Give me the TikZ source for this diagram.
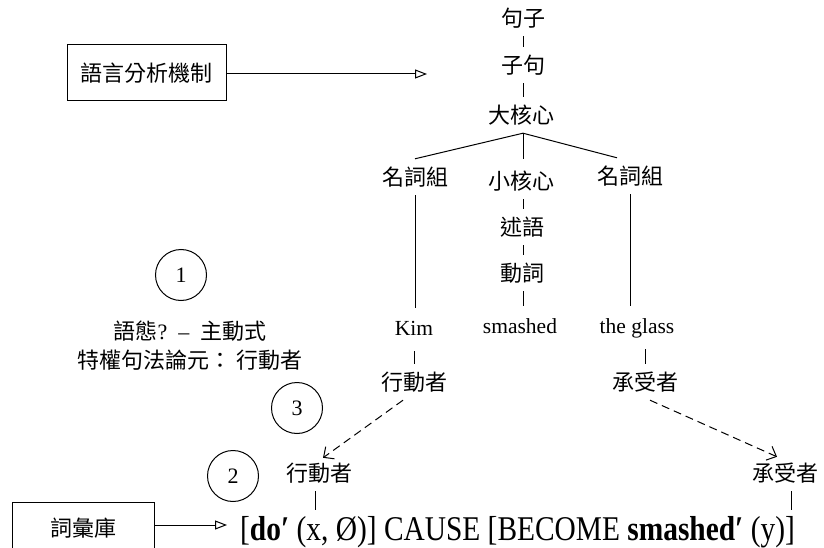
\documentclass[tikz,border=0pt]{standalone}
\usepackage{fontspec}
\setmainfont{Liberation Serif}
\newfontfamily\cjk{Noto Sans CJK TC}
\usetikzlibrary{arrows.meta}
\begin{document}
\begin{tikzpicture}[x=1pt,y=-1pt,
  cj/.style={font=\cjk\fontsize{22}{26}\selectfont, inner xsep=0pt, inner ysep=7pt, text height=19.4pt, text depth=2.6pt},
  lt/.style={font=\fontsize{21.5}{25}\selectfont, inner xsep=0pt, inner ysep=11pt, text height=15.75pt, text depth=5.25pt, anchor=base},
  tline/.style={line width=1pt},
  boxnode/.style={draw, line width=1pt, inner sep=0pt, font=\cjk\fontsize{22}{26}\selectfont},
  num/.style={draw, circle, minimum size=51pt, inner sep=0pt, line width=1pt, font=\fontsize{22}{26}\selectfont},
  openarrow/.style={line width=1pt, -{Triangle[open,length=12pt,width=9pt]}},
  dasharrow/.style={line width=1pt, dash pattern=on 8pt off 5pt, -{Straight Barb[length=8pt,width=15pt]}}
]
\useasboundingbox (0,0) rectangle (824,548);
\clip (0,0) rectangle (824,548);

% boxes and their arrows
\node[boxnode, minimum width=159pt, minimum height=56pt] (box1) at (146.5,73) {語言分析機制};
\coordinate (tip1) at (427,74);
\draw[openarrow] (box1.east |- tip1) -- (tip1);

\node[boxnode, minimum width=142pt, minimum height=52pt] (box2) at (83,528) {詞彙庫};
\coordinate (tip2) at (227,525);
\draw[openarrow] (box2.east |- tip2) -- (tip2);

% tree
\node[cj] (s1) at (523,18) {句子};
\node[cj] (s2) at (523,65) {子句};
\node[cj] (s3) at (521,115) {大核心};
\node[cj] (np1) at (415,177) {名詞組};
\node[cj] (nuc) at (521,181) {小核心};
\node[cj] (np2) at (630,176) {名詞組};
\node[cj] (pred) at (522,227) {述語};
\node[cj] (verb) at (522,273) {動詞};
\node[lt] (kim) at (414,335) {Kim};
\node[lt] (sm) at (520,333) {smashed};
\node[lt] (gl) at (637,333) {the glass};
\node[cj] (act1) at (414,382) {行動者};
\node[cj] (und1) at (645,382) {承受者};

\draw[tline] (s1.south -| 523,0) -- (s2.north -| 523,0);
\draw[tline] (s2.south -| 523,0) -- (s3.north -| 523,0);
\coordinate (root) at (s3.south -| 523,0);
\draw[tline] (root) -- (np1.north);
\draw[tline] (root) -- (root |- np1.north);
\draw[tline] (root) -- ([xshift=-13pt]np2.north);
\draw[tline] (nuc.south -| 523,0) -- (pred.north -| 523,0);
\draw[tline] (pred.south -| 523,0) -- (verb.north -| 523,0);
\draw[tline] (verb.south -| 523,0) -- (sm.north -| 523,0);
\draw[tline] (np1.south) -- (np1.south |- kim.north);
\draw[tline] (np2.south) -- (np2.south |- gl.north);
\draw[tline] (act1.north) -- (act1.north |- kim.south);
\draw[tline] (und1.north) -- (und1.north |- gl.south);

% circles and note
\node[num] (c1) at (181,275) {1};
\node[num] (c3) at (297,408) {3};
\node[num] (c2) at (233,476) {2};
\node[align=center, inner sep=0pt, font=\fontsize{22}{29}\selectfont] (note) at (190,346)
  {{\cjk 語態}?\ \ –\ \ {\cjk 主動式}\\{\cjk 特權句法論元：}\ {\cjk 行動者}};

% semantic representation
\node[cj] (act2) at (319,473) {行動者};
\node[cj] (und2) at (785,473) {承受者};
\node[anchor=base west, inner sep=0pt, font=\fontsize{29.4}{33}\selectfont] (frm) at (240,540)
  {\scalebox{1}[1.18]{[\textbf{do′} (x, Ø)] CAUSE [BECOME \textbf{smashed′} (y)]}};
\coordinate (frmtop) at (0,510);
\draw[tline] ([xshift=-4pt]act2.south) -- ([xshift=-4pt]act2.south |- frmtop);
\draw[tline] ([xshift=6pt]und2.south) -- ([xshift=6pt]und2.south |- frmtop);

\draw[dasharrow] ([xshift=-11pt]act1.south) -- ([xshift=4pt,yshift=-3pt]act2.north);
\draw[dasharrow] ([xshift=5pt]und1.south) -- ([xshift=-8pt,yshift=-2pt]und2.north);
\end{tikzpicture}
\end{document}
